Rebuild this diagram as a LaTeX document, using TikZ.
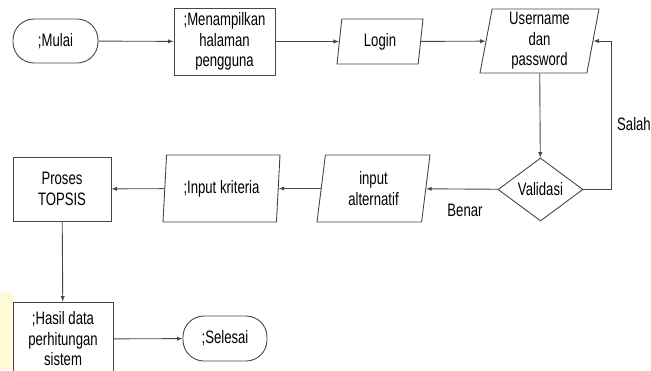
\documentclass[tikz,border=0pt]{standalone}
\usepackage{fontspec}
\setmainfont[FakeStretch=0.73]{Liberation Sans}
\usepackage{tikz}
\usetikzlibrary{shapes,calc,positioning}

\definecolor{garis}{RGB}{70,70,70}
\definecolor{kuning}{RGB}{255,250,215}

\tikzset{
  terminal/.style={draw=garis, line width=0.9pt, rounded corners=21pt, minimum width=85pt, minimum height=44pt, inner sep=0pt},
  proses/.style={draw=garis, line width=0.9pt, align=center, inner sep=0pt},
  io/.style={draw=garis, line width=0.9pt, trapezium, trapezium left angle=75, trapezium right angle=105, trapezium stretches body, align=center, inner sep=0pt},
  keputusan/.style={draw=garis, line width=0.9pt, diamond, minimum width=85pt, minimum height=63pt, inner sep=0pt},
  panah/.style={draw=garis, line width=0.9pt, -latex}
}

\begin{document}
\begin{tikzpicture}[x=1pt,y=-1pt,font=\fontsize{18}{20.5}\selectfont]
\useasboundingbox (0,0) rectangle (651,370);
\clip (0,0) rectangle (651,370);

\fill[kuning] (0,292) rectangle (13,370);

\node[terminal] (mulai) at (55.5,41) {;Mulai};
\node[proses, minimum width=101pt, minimum height=67pt] (tampil) at (224.5,41.5) {;Menampilkan\\halaman\\pengguna};
\node[io, minimum width=86pt, minimum height=45pt, trapezium left angle=74, trapezium right angle=106] (login) at (380,41.5) {Login};
\node[io, minimum width=119pt, minimum height=64pt, trapezium left angle=78, trapezium right angle=102] (user) at (539.5,41) {Username\\dan\\password};

\node[keputusan] (valid) at (540.5,189.5) {Validasi};
\node[io, minimum width=113pt, minimum height=67pt, trapezium left angle=76, trapezium right angle=104] (alt) at (373.5,188.5) {input\\alternatif};
\node[io, minimum width=117pt, minimum height=67pt, trapezium left angle=78, trapezium right angle=102] (krit) at (221.5,188.5) {;Input kriteria};
\node[proses, minimum width=98pt, minimum height=64pt] (topsis) at (62,189) {Proses\\TOPSIS};

\node[proses, minimum width=100pt, minimum height=74pt] (hasil) at (63,339) {;Hasil data\\perhitungan\\sistem};
\node[terminal, minimum width=84pt, minimum height=45pt] (selesai) at (225,338.5) {;Selesai};

\coordinate (balik) at (611,189.5);

\draw[panah] (mulai) -- (tampil);
\draw[panah] (tampil) -- (login);
\draw[panah] (login) -- (user);
\draw[panah] (user) -- (valid);
\draw[panah] (valid.east) -- (balik) |- (user.east);
\draw[panah] (valid) -- (alt);
\draw[panah] (alt) -- (krit);
\draw[panah] (krit) -- (topsis);
\draw[panah] (topsis) -- (hasil);
\draw[panah] (hasil) -- (selesai);

\node[anchor=west, inner sep=0pt] (salah) at (617,124) {Salah};
\node (benar) at (465,210) {Benar};

\end{tikzpicture}
\end{document}
